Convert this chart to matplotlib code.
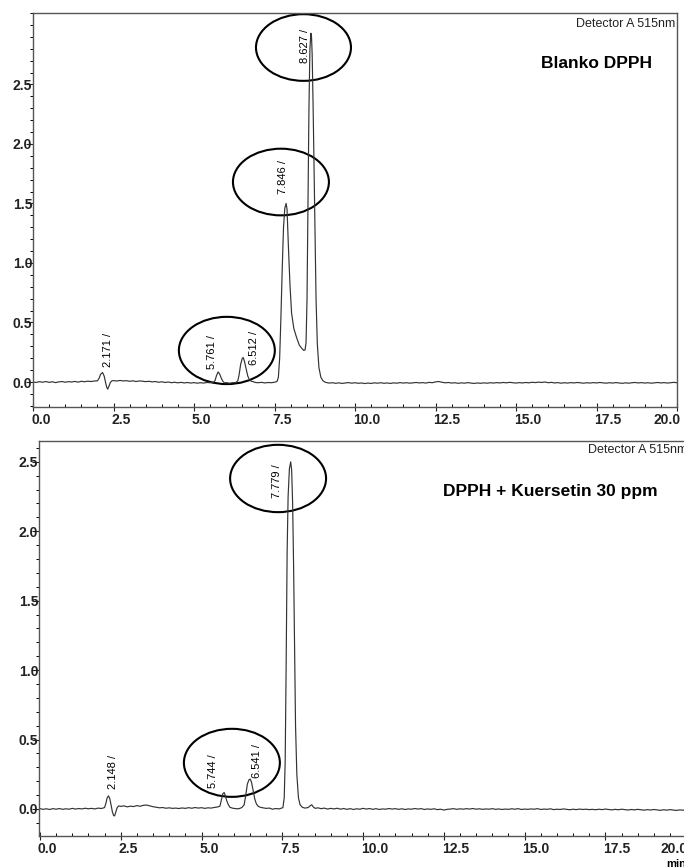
import numpy as np
import matplotlib
matplotlib.use('Agg')
import matplotlib.pyplot as plt
from matplotlib.patches import Ellipse
from matplotlib.ticker import MultipleLocator, FormatStrFormatter
from matplotlib.transforms import ScaledTranslation

plt.rcParams['font.family'] = ['Liberation Sans', 'DejaVu Sans']

# chromatogram 1 : Blanko DPPH (time in min, absorbance)
blank_t = [0.0, 0.1, 0.2, 0.3, 0.4, 0.5, 0.6, 0.7, 0.8, 0.9, 1.0, 1.1, 1.2, 1.3, 1.4, 1.5, 1.6, 1.7, 1.8, 1.9, 2.0,
           2.05, 2.10, 2.16, 2.21, 2.25, 2.29, 2.32, 2.36, 2.40, 2.45,
           2.5, 2.6, 2.7, 2.8, 2.9, 3.0, 3.1, 3.2, 3.3, 3.4, 3.5, 3.6, 3.7, 3.8, 3.9, 4.0,
           4.1, 4.2, 4.3, 4.4, 4.5, 4.6, 4.7, 4.8, 4.9, 5.0, 5.1, 5.2, 5.3, 5.4, 5.5, 5.6,
           5.65, 5.70, 5.75, 5.80, 5.85, 5.90, 5.95, 6.0, 6.1, 6.2, 6.3,
           6.36, 6.40, 6.45, 6.50, 6.53, 6.57, 6.62, 6.67, 6.72, 6.78, 6.85, 6.9, 7.0, 7.1, 7.2, 7.3, 7.4, 7.5,
           7.58, 7.62, 7.66, 7.70, 7.74, 7.78, 7.82, 7.86, 7.89, 7.93, 7.98, 8.03, 8.10, 8.19, 8.27, 8.34, 8.41, 8.45,
           8.48, 8.51, 8.54, 8.57, 8.60, 8.63, 8.65, 8.67, 8.70, 8.73, 8.76, 8.79, 8.83, 8.88, 8.94, 9.0, 9.05,
           9.1, 9.2, 9.3, 9.4, 9.5, 9.6, 9.7, 9.8, 9.9, 10.0,
           10.1, 10.2, 10.3, 10.4, 10.5, 10.6, 10.7, 10.8, 10.9, 11.0,
           11.1, 11.2, 11.3, 11.4, 11.5, 11.6, 11.7, 11.8, 11.9, 12.0,
           12.1, 12.2, 12.3, 12.4, 12.5, 12.6, 12.7, 12.8, 12.9, 13.0,
           13.1, 13.2, 13.3, 13.4, 13.5, 13.6, 13.7, 13.8, 13.9, 14.0,
           14.1, 14.2, 14.3, 14.4, 14.5, 14.6, 14.7, 14.8, 14.9, 15.0,
           15.1, 15.2, 15.3, 15.4, 15.5, 15.6, 15.7, 15.8, 15.9, 16.0,
           16.1, 16.2, 16.3, 16.4, 16.5, 16.6, 16.7, 16.8, 16.9, 17.0,
           17.1, 17.2, 17.3, 17.4, 17.5, 17.6, 17.7, 17.8, 17.9, 18.0,
           18.1, 18.2, 18.3, 18.4, 18.5, 18.6, 18.7, 18.8, 18.9, 19.0,
           19.1, 19.2, 19.3, 19.4, 19.5, 19.6, 19.7, 19.8, 19.9, 20.0]
blank_v = [0.000, -0.004, 0.003, -0.002, 0.004, -0.003, 0.002, -0.005, 0.001, 0.004, -0.002, 0.003, 0.000, 0.005, -0.001, 0.006, 0.002, 0.007, 0.004, 0.008, 0.010,
           0.030, 0.065, 0.080, 0.050, 0.000, -0.045, -0.060, -0.035, -0.005, 0.010,
           0.012, 0.008, 0.013, 0.009, 0.011, 0.006, 0.010, 0.004, 0.009, 0.007, 0.003, 0.006, 0.001, 0.004, -0.002, 0.002,
           -0.004, 0.000, -0.006, -0.002, -0.007, -0.003, -0.008, -0.004, -0.009, -0.005, -0.010, -0.006, -0.009, -0.004, -0.006, -0.002,
           0.010, 0.055, 0.085, 0.065, 0.030, 0.005, -0.008, -0.005, -0.010, -0.006, -0.004,
           0.010, 0.060, 0.150, 0.200, 0.205, 0.170, 0.110, 0.050, 0.020, 0.006, 0.002, -0.004, -0.006, -0.003, -0.008, -0.004, -0.006, -0.002,
           0.005, 0.040, 0.200, 0.550, 0.950, 1.300, 1.460, 1.500, 1.450, 1.150, 0.820, 0.580, 0.450, 0.370, 0.310, 0.285, 0.265, 0.270,
           0.330, 0.700, 1.500, 2.300, 2.800, 2.930, 2.900, 2.750, 2.300, 1.750, 1.150, 0.700, 0.320, 0.120, 0.040, 0.012, 0.002,
           -0.004, -0.009, -0.006, -0.011, -0.007, -0.012, -0.008, -0.005, -0.010, -0.006,
           -0.011, -0.008, -0.013, -0.009, -0.012, -0.007, -0.010, -0.006, -0.011, -0.008,
           -0.012, -0.007, -0.010, -0.005, -0.009, -0.006, -0.010, -0.007, -0.004, -0.008,
           -0.005, -0.009, -0.003, -0.006, 0.001, 0.004, -0.002, -0.007, -0.004, -0.009,
           -0.006, -0.011, -0.007, -0.010, -0.005, -0.009, -0.012, -0.008, -0.011, -0.007,
           -0.010, -0.006, -0.009, -0.005, -0.008, -0.004, -0.007, -0.003, -0.006, -0.009,
           -0.005, -0.008, -0.004, -0.007, -0.002, -0.005, -0.001, -0.004, 0.000, -0.006,
           -0.003, -0.008, -0.005, -0.010, -0.006, -0.009, -0.005, -0.008, -0.004, -0.007,
           -0.010, -0.006, -0.009, -0.005, -0.008, -0.004, -0.007, -0.010, -0.006, -0.009,
           -0.005, -0.008, -0.011, -0.007, -0.010, -0.006, -0.004, -0.008, -0.005, -0.009,
           -0.006, -0.010, -0.007, -0.004, -0.008, -0.005, -0.009, -0.006, -0.003, -0.006]

# chromatogram 2 : DPPH + Kuersetin 30 ppm
querc_t = [0.0, 0.1, 0.2, 0.3, 0.4, 0.5, 0.6, 0.7, 0.8, 0.9, 1.0, 1.1, 1.2, 1.3, 1.4, 1.5, 1.6, 1.7, 1.8, 1.9, 2.0,
           2.04, 2.08, 2.12, 2.16, 2.20, 2.24, 2.28, 2.31, 2.35, 2.39, 2.44,
           2.5, 2.6, 2.7, 2.8, 2.9, 3.0, 3.1, 3.2, 3.3, 3.4, 3.5, 3.6, 3.7, 3.8, 3.9, 4.0,
           4.1, 4.2, 4.3, 4.4, 4.5, 4.6, 4.7, 4.8, 4.9, 5.0, 5.1, 5.2, 5.3, 5.4, 5.5,
           5.57, 5.62, 5.66, 5.70, 5.74, 5.78, 5.83, 5.88, 5.95, 6.05, 6.15, 6.25,
           6.32, 6.37, 6.42, 6.47, 6.51, 6.55, 6.60, 6.65, 6.70, 6.76, 6.82, 6.9, 7.0, 7.1, 7.2, 7.3, 7.4, 7.48,
           7.52, 7.56, 7.59, 7.62, 7.65, 7.68, 7.72, 7.76, 7.79, 7.82, 7.85, 7.88, 7.91, 7.95, 8.00, 8.05, 8.12,
           8.2, 8.3, 8.36, 8.41, 8.46, 8.52, 8.6, 8.7, 8.8, 8.9, 9.0,
           9.1, 9.2, 9.3, 9.4, 9.5, 9.6, 9.7, 9.8, 9.9, 10.0,
           10.1, 10.2, 10.3, 10.4, 10.5, 10.6, 10.7, 10.8, 10.9, 11.0,
           11.1, 11.2, 11.3, 11.4, 11.5, 11.6, 11.7, 11.8, 11.9, 12.0,
           12.1, 12.2, 12.3, 12.4, 12.5, 12.6, 12.7, 12.8, 12.9, 13.0,
           13.1, 13.2, 13.3, 13.4, 13.5, 13.6, 13.7, 13.8, 13.9, 14.0,
           14.1, 14.2, 14.3, 14.4, 14.5, 14.6, 14.7, 14.8, 14.9, 15.0,
           15.1, 15.2, 15.3, 15.4, 15.5, 15.6, 15.7, 15.8, 15.9, 16.0,
           16.1, 16.2, 16.3, 16.4, 16.5, 16.6, 16.7, 16.8, 16.9, 17.0,
           17.1, 17.2, 17.3, 17.4, 17.5, 17.6, 17.7, 17.8, 17.9, 18.0,
           18.1, 18.2, 18.3, 18.4, 18.5, 18.6, 18.7, 18.8, 18.9, 19.0,
           19.1, 19.2, 19.3, 19.4, 19.5, 19.6, 19.7, 19.8, 19.9, 20.0, 20.1]
querc_v = [0.002, -0.003, 0.001, -0.004, 0.002, -0.002, 0.003, -0.003, 0.001, -0.002, 0.004, -0.001, 0.003, 0.000, 0.005, 0.001, 0.004, 0.000, 0.006, 0.003, 0.010,
           0.040, 0.080, 0.094, 0.075, 0.030, -0.020, -0.048, -0.050, -0.020, 0.010, 0.022,
           0.018, 0.022, 0.015, 0.020, 0.017, 0.024, 0.019, 0.026, 0.028, 0.022, 0.016, 0.012, 0.008, 0.010, 0.005, 0.008,
           0.004, 0.006, 0.003, 0.007, 0.004, 0.009, 0.005, 0.010, 0.006, 0.009, 0.004, 0.008, 0.006, 0.011, 0.014,
           0.020, 0.070, 0.110, 0.118, 0.095, 0.060, 0.030, 0.012, 0.006, 0.002, 0.001, 0.010,
           0.030, 0.100, 0.180, 0.210, 0.215, 0.190, 0.130, 0.070, 0.035, 0.018, 0.012, 0.008, 0.004, 0.006, -0.002, 0.003, 0.000, 0.006,
           0.010, 0.080, 0.350, 1.050, 1.850, 2.250, 2.450, 2.500, 2.440, 2.200, 1.750, 1.150, 0.600, 0.250, 0.080, 0.030, 0.012,
           0.006, 0.010, 0.022, 0.030, 0.014, 0.004, 0.008, 0.002, 0.006, -0.001, 0.004,
           0.000, 0.005, -0.002, 0.003, -0.003, 0.002, -0.004, 0.001, -0.002, 0.004,
           -0.001, 0.003, -0.003, 0.002, -0.004, 0.000, -0.002, 0.003, -0.001, 0.002,
           -0.003, 0.001, -0.004, 0.000, -0.002, 0.003, -0.001, 0.002, -0.004, 0.000,
           -0.003, 0.001, -0.005, -0.002, -0.008, -0.003, -0.001, 0.002, -0.003, 0.001,
           -0.002, 0.002, -0.001, 0.003, -0.002, 0.001, -0.003, 0.000, -0.002, 0.002,
           -0.003, 0.000, -0.004, -0.001, -0.003, 0.001, -0.002, 0.002, -0.004, -0.001,
           -0.003, 0.000, -0.002, 0.002, -0.004, -0.001, -0.003, 0.001, -0.005, -0.002,
           -0.004, 0.000, -0.003, -0.006, -0.002, -0.005, -0.001, -0.004, -0.002, -0.005,
           -0.003, -0.006, -0.002, -0.005, -0.001, -0.004, -0.007, -0.003, -0.006, -0.002,
           -0.005, -0.008, -0.004, -0.007, -0.003, -0.006, -0.009, -0.005, -0.008, -0.004,
           -0.007, -0.010, -0.006, -0.009, -0.005, -0.008, -0.011, -0.007, -0.009, -0.006, -0.008]

assert len(blank_t) == len(blank_v)
assert len(querc_t) == len(querc_v)

# retention time labels: (label, x, y of text bottom)
blank_labels = [('2.171 /', 2.33, 0.13), ('5.761 /', 5.55, 0.11), ('6.512 /', 6.87, 0.14),
                ('7.846 /', 7.77, 1.58), ('8.627 /', 8.45, 2.68)]
querc_labels = [('2.148 /', 2.27, 0.145), ('5.744 /', 5.37, 0.15), ('6.541 /', 6.71, 0.22),
                ('7.779 /', 7.33, 2.24)]

# hand drawn circles: (centre x, centre y, width, height)
blank_circles = [(8.40, 2.81, 2.95, 0.56), (7.70, 1.68, 2.98, 0.56), (6.02, 0.265, 2.98, 0.565)]
querc_circles = [(7.37, 2.38, 2.97, 0.485), (5.94, 0.332, 2.97, 0.49)]

W, H = 684, 867
fig = plt.figure(figsize=(W / 100, H / 100), dpi=100)
ax1 = fig.add_axes([33 / W, 1 - 407 / H, 644 / W, 394 / H])
ax2 = fig.add_axes([39 / W, 1 - 836 / H, 652 / W, 395 / H])


def setup(ax, xlim, ylim, last_shift):
    ax.set_xlim(*xlim)
    ax.set_ylim(*ylim)
    ax.set_xticks([0, 2.5, 5, 7.5, 10, 12.5, 15, 17.5, 20])
    ax.xaxis.set_minor_locator(MultipleLocator(0.5))
    ax.set_yticks([0, 0.5, 1.0, 1.5, 2.0, 2.5])
    ax.yaxis.set_minor_locator(MultipleLocator(0.1))
    ax.xaxis.set_major_formatter(FormatStrFormatter('%.1f'))
    ax.yaxis.set_major_formatter(FormatStrFormatter('%.1f'))
    ax.tick_params(axis='y', which='major', direction='out', length=5, width=0.8, pad=-4.5,
                   labelsize=10, colors='#222222')
    ax.tick_params(axis='y', which='minor', direction='out', length=2.5, width=0.7)
    ax.tick_params(axis='x', which='major', direction='inout', length=6, width=0.8, pad=1.5,
                   labelsize=10, colors='#222222')
    ax.tick_params(axis='x', which='minor', direction='in', length=2.5, width=0.7)
    for sp in ax.spines.values():
        sp.set_color('#555555')
        sp.set_linewidth(1.0)
    for lbl in ax.get_yticklabels():
        lbl.set_fontweight('bold')
    labels = ax.get_xticklabels()
    for i, lbl in enumerate(labels):
        lbl.set_fontweight('bold')
        if i == len(labels) - 1:
            lbl.set_horizontalalignment('right')
            lbl.set_transform(lbl.get_transform() + ScaledTranslation(last_shift, 0, fig.dpi_scale_trans))
        else:
            lbl.set_horizontalalignment('left')
            lbl.set_transform(lbl.get_transform() + ScaledTranslation(-0.02, 0, fig.dpi_scale_trans))


setup(ax1, (0, 20.0), (-0.21, 3.1), 0.035)
setup(ax2, (-0.03, 20.15), (-0.195, 2.65), 0.01)

ax1.plot(blank_t, blank_v, color='#333333', lw=0.85)
ax2.plot(querc_t, querc_v, color='#333333', lw=0.85)

for ax, labels, circles in [(ax1, blank_labels, blank_circles), (ax2, querc_labels, querc_circles)]:
    for txt, x, y in labels:
        ax.text(x, y, txt, rotation=90, ha='center', va='bottom', fontsize=8, color='black')
    for cx, cy, w, h in circles:
        ax.add_patch(Ellipse((cx, cy), w, h, fill=False, edgecolor='black', lw=1.5))

ax1.text(0.997, 0.972, 'Detector A 515nm', transform=ax1.transAxes, ha='right', va='center',
         fontsize=9, color='#222222')
ax2.text(0.995, 0.977, 'Detector A 515nm', transform=ax2.transAxes, ha='right', va='center',
         fontsize=9, color='#222222')

fig.text(596.5 / W, 1 - 63.5 / H, 'Blanko DPPH', ha='center', va='center', fontsize=12.5,
         fontweight='bold')
fig.text(550 / W, 1 - 491.5 / H, 'DPPH + Kuersetin 30 ppm', ha='center', va='center',
         fontsize=12.5, fontweight='bold')
fig.text(666 / W, 1 - 859 / H, 'min', ha='left', va='top', fontsize=8, fontweight='bold')

fig.savefig('out.png', dpi=100)
